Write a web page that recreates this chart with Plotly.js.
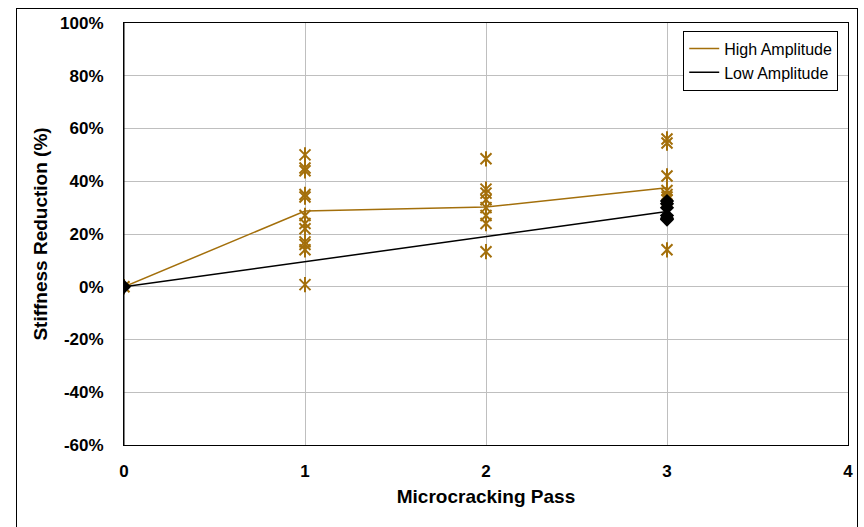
<!DOCTYPE html>
<html>
<head>
<meta charset="utf-8">
<script src="https://cdn.plot.ly/plotly-3.0.1.min.js"></script>
<style>
  html, body { margin: 0; padding: 0; background: #fff; }
  #wrap { position: relative; width: 864px; height: 527px; overflow: hidden; }
  #chart { position: absolute; left: 0; top: 0; width: 864px; height: 527px; }
  #frame { position: absolute; left: 16px; top: 8px; width: 840px; height: 540px; border: 1px solid #000; pointer-events: none; }
</style>
</head>
<body>
<div id="wrap">
  <div id="chart"></div>
  <div id="frame"></div>
</div>
<script>
// Individual measurements (Stiffness Reduction, %)
const highX = [0,
  1, 1, 1, 1, 1, 1, 1, 1, 1, 1, 1, 1,
  2, 2, 2, 2, 2, 2, 2, 2,
  3, 3, 3, 3, 3, 3, 3, 3];
const highY = [0,
  50, 45, 44, 35, 34, 27, 24, 22, 17, 16, 14, 0.8,
  48.5, 37, 35.5, 33, 30, 27, 24, 13.3,
  56, 54.5, 42, 36.5, 35, 34, 33, 14];

const lowX = [0, 3, 3, 3, 3, 3, 3];
const lowY = [0, 32.5, 31.5, 30, 27, 26, 25.5];

// Average lines
const highMeanX = [0, 1, 2, 3];
const highMeanY = [0, 28.7, 30.2, 37.5];
const lowMeanX = [0, 3];
const lowMeanY = [0, 28.5];

const xTicks = [0, 1, 2, 3, 4];
const yTicks = [-60, -40, -20, 0, 20, 40, 60, 80, 100];

const gold = '#A36F0B';
const font = 'Liberation Sans, Arial, sans-serif';

const traces = [
  { x: highMeanX, y: highMeanY, mode: 'lines', name: 'High Amplitude',
    line: { color: gold, width: 1.5 }, showlegend: true },
  { x: lowMeanX, y: lowMeanY, mode: 'lines', name: 'Low Amplitude',
    line: { color: '#000', width: 1.5 }, showlegend: true },
  { x: highX, y: highY, mode: 'markers', showlegend: false, hoverinfo: 'y',
    marker: { symbol: 'x-thin-open', size: 11, color: gold, line: { color: gold, width: 2 } } },
  { x: highX, y: highY, mode: 'markers', showlegend: false, hoverinfo: 'skip',
    marker: { symbol: 'line-ns-open', size: 11, color: gold, line: { color: gold, width: 2 } } },
  { x: lowX, y: lowY, mode: 'markers', showlegend: false, hoverinfo: 'y',
    marker: { symbol: 'diamond', size: 11, color: '#000', line: { width: 0 } } }
];

const layout = {
  width: 864, height: 527,
  margin: { l: 124, r: 16, t: 23, b: 82, pad: 0 },
  paper_bgcolor: '#fff', plot_bgcolor: '#fff',
  font: { family: font, color: '#000' },
  xaxis: {
    range: [0, 4], tickvals: xTicks, ticktext: xTicks.map(String),
    showgrid: true, gridcolor: '#BFBFBF', gridwidth: 1,
    zeroline: false, showline: true, linecolor: '#000', linewidth: 1, mirror: true,
    ticks: '', ticklabelstandoff: 11,
    tickfont: { family: font, size: 17, color: '#000', weight: 'bold' },
    title: { text: '<b>Microcracking Pass</b>', font: { family: font, size: 19, color: '#000' }, standoff: 9 }
  },
  yaxis: {
    range: [-60, 100], tickvals: yTicks, ticktext: yTicks.map(v => v + '%'),
    showgrid: true, gridcolor: '#BFBFBF', gridwidth: 1,
    zeroline: false, showline: true, linecolor: '#000', linewidth: 1, mirror: true,
    ticks: '', ticklabelstandoff: 16,
    tickfont: { family: font, size: 17, color: '#000', weight: 'bold' },
    title: { text: '<b>Stiffness Reduction (%)</b>', font: { family: font, size: 19, color: '#000' }, standoff: 7 }
  },
  legend: {
    x: 0.9865, xanchor: 'right', y: 0.982, yanchor: 'top',
    bgcolor: '#fff', bordercolor: '#000', borderwidth: 1,
    font: { family: font, size: 16, color: '#000' },
    itemwidth: 30, tracegroupgap: 0
  },
  showlegend: true
};

layout.shapes = [{ type: 'line', xref: 'x', yref: 'paper', x0: 0, x1: 0, y0: 0, y1: 1, line: { color: '#000', width: 1 } }];

Plotly.newPlot('chart', traces, layout, { displayModeBar: false, staticPlot: true });
</script>
</body>
</html>
